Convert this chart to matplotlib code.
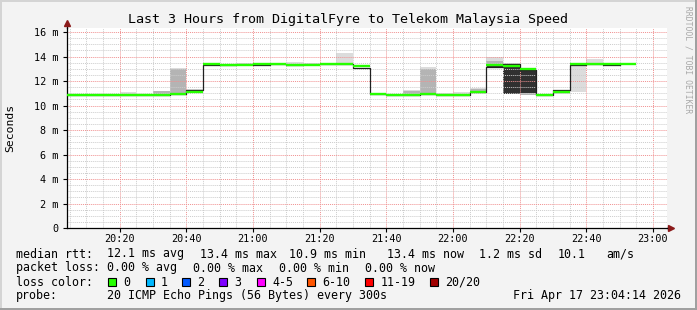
import matplotlib
matplotlib.use("Agg")
import matplotlib.pyplot as plt
import matplotlib.dates as mdates
from matplotlib.patches import Rectangle
import numpy as np
import pandas as pd

plt.rcParams['font.family'] = ['DejaVu Sans Mono']

W, H = 697, 310

# ---- data (ms) ----
# 5 minute slots, value of slot i spans slot_start[i] .. slot_start[i] + 5min
slot_start = pd.date_range("2026-04-17 20:00", "2026-04-17 22:50", freq="5min")
view_start = pd.Timestamp("2026-04-17 20:04:14")
view_end = pd.Timestamp("2026-04-17 23:04:14")

loss_line = [10.9, 10.9, 10.9, 10.9, 10.9, 10.9, 10.9, 10.96, 11.13, 13.36,
             13.33, 13.28, 13.39, 13.41, 13.33, 13.33, 13.39, 13.39, 13.2, 10.94,
             10.88, 10.9, 10.94, 10.9, 10.9, 11.13, 13.33, 13.25, 13.0, 10.9,
             11.13, 13.39, 13.39, 13.39, 13.36]
median_rtt = [10.9, 10.9, 10.9, 10.9, 10.9, 10.9, 10.9, 10.96, 11.29, 13.3,
              13.33, 13.36, 13.3, 13.41, 13.33, 13.39, 13.39, 13.39, 13.06, 10.94,
              10.88, 10.9, 10.94, 10.9, 10.9, 11.13, 13.15, 13.42, 12.92, 10.9,
              11.24, 13.33, 13.39, 13.33, np.nan]

nan = np.nan
# smoke: outer (light), middle and inner (dark) ping spread per slot
smoke_light_lo = [nan, nan, nan, nan, 10.9, nan, 10.9, 10.96, 11.13, nan,
                  nan, nan, nan, nan, 13.33, nan, 13.39, 13.39, nan, nan,
                  nan, 10.9, 10.94, 10.9, 10.9, 11.13, 13.06, 10.94, 10.9, nan,
                  10.95, 11.13, 13.39, nan, nan]
smoke_light_hi = [nan, nan, nan, nan, 11.13, nan, 11.22, 13.1, 11.32, nan,
                  nan, nan, nan, nan, 13.52, nan, 13.5, 14.31, nan, nan,
                  nan, 11.28, 13.12, 11.0, 11.07, 11.45, 13.93, 13.48, 13.1, nan,
                  11.2, 13.39, 13.8, nan, nan]
smoke_mid_lo = [nan, nan, nan, nan, nan, nan, 10.9, 10.96, nan, nan,
                nan, nan, nan, nan, nan, nan, nan, nan, nan, nan,
                nan, 10.9, 10.94, nan, nan, 11.13, 13.06, nan, 10.9, nan,
                nan, nan, nan, nan, nan]
smoke_mid_hi = [nan, nan, nan, nan, nan, nan, 11.18, 12.95, nan, nan,
                nan, nan, nan, nan, nan, nan, nan, nan, nan, nan,
                nan, 11.22, 12.95, nan, nan, 11.38, 13.6, nan, 11.05, nan,
                nan, nan, nan, nan, nan]
smoke_dark_lo = [nan] * 26 + [13.06, 10.98, 11.05] + [nan] * 6
smoke_dark_hi = [nan] * 26 + [13.2, 13.42, 12.9] + [nan] * 6

y_ticks = [0, 2, 4, 6, 8, 10, 12, 14, 16]
y_tick_labels = ["0", "2 m", "4 m", "6 m", "8 m", "10 m", "12 m", "14 m", "16 m"]

title = "Last 3 Hours from DigitalFyre to Telekom Malaysia Speed"

legend_rows = [
    ("median rtt:", [("12.1 ms avg", 107), ("13.4 ms max", 200), ("10.9 ms min", 289),
                     ("13.4 ms now", 386.5), ("1.2 ms sd", 479), ("10.1", 558), ("am/s", 606.5)]),
    ("packet loss:", [("0.00 % avg", 107), ("0.00 % max", 193), ("0.00 % min", 279),
                      ("0.00 % now", 365)]),
]
loss_labels = ["0", "1", "2", "3", "4-5", "6-10", "11-19", "20/20"]
loss_colors = ["#26ff00", "#00b8ff", "#0059ff", "#7e00ff", "#ff00ff", "#ff5500", "#ff0000", "#a10000"]
loss_box_x = [108, 145.5, 182, 219, 256.5, 307, 365, 430]
probe_text = "20 ICMP Echo Pings (56 Bytes) every 300s"
stamp_text = "Fri Apr 17 23:04:14 2026"


def fx(x):
    return x / W


def fy(y):
    return 1 - y / H


fig = plt.figure(figsize=(W / 100, H / 100), dpi=100, facecolor="#f3f3f3")
ax = fig.add_axes([fx(67), fy(228), 600 / W, 200 / H])
ax.set_facecolor("white")

slot = pd.Timedelta(minutes=5)
edges = list(slot_start) + [slot_start[-1] + slot]

# smoke, one box per slot
for lo, hi, col in [(smoke_light_lo, smoke_light_hi, "#dcdcdc"),
                    (smoke_mid_lo, smoke_mid_hi, "#b4b4b4"),
                    (smoke_dark_lo, smoke_dark_hi, "#303030")]:
    lo = np.array(lo)
    hi = np.array(hi)
    ok = ~np.isnan(lo)
    ax.bar(slot_start[ok], hi[ok] - lo[ok], bottom=lo[ok], width=slot, align="edge",
           color=col, lw=0, zorder=1)

# median line (black) under the loss coloured line
ax.step(edges, list(median_rtt) + [median_rtt[-1]], where="post", color="#202020", lw=0.9, zorder=2)
ax.hlines(loss_line, slot_start, slot_start + slot, color="#26ff00", lw=1.7, zorder=3)

ax.set_xlim(view_start, view_end)
ax.set_ylim(0, 16.33)
ax.set_yticks(y_ticks)
ax.set_yticklabels(y_tick_labels)
ax.yaxis.set_minor_locator(plt.MultipleLocator(0.5))
ax.xaxis.set_major_locator(mdates.MinuteLocator(byminute=[0, 20, 40]))
ax.xaxis.set_minor_locator(mdates.MinuteLocator(byminute=range(0, 60, 5)))
ax.xaxis.set_major_formatter(mdates.DateFormatter("%H:%M"))

ax.set_axisbelow("line")
ax.grid(which="major", color="#f09090", lw=0.7, linestyle=(0, (1, 1)))
ax.grid(which="minor", color="#cccccc", lw=0.7, linestyle=(0, (1, 1)))
ax.tick_params(which="major", labelsize=7.3, length=3, width=0.8, pad=3)
ax.tick_params(which="minor", length=0)
ax.tick_params(axis="x", pad=1.5)

for s in ["top", "right"]:
    ax.spines[s].set_visible(False)
for s in ["left", "bottom"]:
    ax.spines[s].set_color("black")
    ax.spines[s].set_linewidth(0.9)

# axis arrows
ax.plot([0, 0], [1.0, 1.02], transform=ax.transAxes, color="black", lw=0.9, clip_on=False)
ax.plot([1.0, 1.004], [0, 0], transform=ax.transAxes, color="black", lw=0.9, clip_on=False)
ax.plot([0], [1.025], transform=ax.transAxes, marker="^", ms=5, color="#8b1a1a", clip_on=False)
ax.plot([1.006], [0], transform=ax.transAxes, marker=">", ms=5, color="#8b1a1a", clip_on=False)

# title, axis label, watermark
fig.text(fx(347.5), fy(19), title, fontsize=9.6, ha="center", va="center")
fig.text(fx(10.5), fy(128), "Seconds", fontsize=8.2, rotation=90, ha="center", va="center")
fig.text(fx(688), fy(60), "RRDTOOL / TOBI OETIKER", fontsize=5.8, rotation=270,
         ha="center", va="center", color="#a8a8a8")

# legend
row_y = [254, 268]
for (head, items), y in zip(legend_rows, row_y):
    fig.text(fx(16), fy(y), head, fontsize=8.4, ha="left", va="center")
    for s, x in items:
        fig.text(fx(x), fy(y), s, fontsize=8.4, ha="left", va="center")

fig.text(fx(16), fy(282), "loss color:", fontsize=8.4, ha="left", va="center")
for lab, col, x in zip(loss_labels, loss_colors, loss_box_x):
    fig.patches.append(Rectangle((fx(x), fy(286)), 8 / W, 8 / H, transform=fig.transFigure,
                                 facecolor=col, edgecolor="black", lw=0.8))
    fig.text(fx(x + 15.5), fy(282), lab, fontsize=8.4, ha="left", va="center")

fig.text(fx(16), fy(296), "probe:", fontsize=8.4, ha="left", va="center")
fig.text(fx(107), fy(296), probe_text, fontsize=8.4, ha="left", va="center")
fig.text(fx(681), fy(296), stamp_text, fontsize=8.4, ha="right", va="center")

# 3d-ish frame
fig.patches.append(Rectangle((0, 1 - 2 / H), 1, 2 / H, transform=fig.transFigure, color="#d4d4d4", lw=0))
fig.patches.append(Rectangle((0, 0), 2 / W, 1, transform=fig.transFigure, color="#d4d4d4", lw=0))
fig.patches.append(Rectangle((0, 0), 1, 2 / H, transform=fig.transFigure, color="#a0a0a0", lw=0))
fig.patches.append(Rectangle((1 - 2 / W, 0), 2 / W, 1, transform=fig.transFigure, color="#a0a0a0", lw=0))

fig.savefig("out.png", dpi=100, facecolor=fig.get_facecolor())
